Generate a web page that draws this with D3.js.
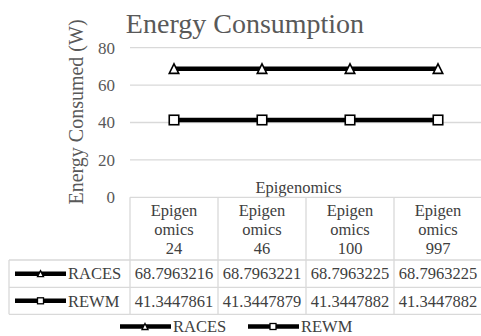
<!DOCTYPE html>
<html><head><meta charset="utf-8"><script src="https://cdn.jsdelivr.net/npm/d3@7"></script></head>
<body style="margin:0">
<script>
// data
const groupName = "Epigenomics";
const categories = ["24", "46", "100", "997"];
const seriesNames = ["RACES", "REWM"];
const racesValues = [68.7963216, 68.7963221, 68.7963225, 68.7963225];
const rewmValues = [41.3447861, 41.3447879, 41.3447882, 41.3447882];
const yTicks = [0, 20, 40, 60, 80];

const series = [
  { name: seriesNames[0], values: racesValues, marker: "triangle" },
  { name: seriesNames[1], values: rewmValues, marker: "square" }
];

const textColor = "#595959",
  tableText = "#404040",
  gridColor = "#d9d9d9";

const svg = d3.select("body").append("svg").attr("width", 481).attr("height", 336);

const xScale = d3.scaleBand()
  .domain(categories)
  .range([130, 482])
  .padding(0);

const yScale = d3.scaleLinear()
  .domain([0, 80])
  .range([197.3, 47.7]);

function addText(g, x, y, txt, size, color, anchor) {
  return g.append("text")
    .attr("x", x)
    .attr("y", y)
    .style("font-family", "Times New Roman")
    .style("font-size", size + "px")
    .attr("text-anchor", anchor || "start")
    .attr("fill", color)
    .text(txt);
}

// title
addText(svg, 245, 33, "Energy Consumption", 28, textColor, "middle");

// y axis title
addText(svg, 0, 0, "Energy Consumed (W)", 20, textColor, "middle")
  .attr("transform", "translate(83,112) rotate(-90)");

// gridlines
svg.append("g")
  .selectAll("line")
  .data(yTicks.filter(d => d > 0))
  .enter()
  .append("line")
  .attr("x1", 130)
  .attr("x2", 482)
  .attr("y1", d => yScale(d))
  .attr("y2", d => yScale(d))
  .attr("stroke", gridColor)
  .attr("stroke-width", 1.3);

// y tick labels
yTicks.forEach(d => {
  addText(svg, 115, yScale(d), d, 17, textColor, "end").attr("dy", "0.35em");
});

// group label
addText(svg, 298.5, 193, groupName, 16.5, tableText, "middle");

// marker drawing
function drawMarker(g, type, x, y, size, sw) {
  if (type === "triangle") {
    g.append("path")
      .attr("d", `M${x},${y - size / 2}L${x + size / 2},${y + size / 2}L${x - size / 2},${y + size / 2}Z`)
      .attr("fill", "#fff")
      .attr("stroke", "#000")
      .attr("stroke-width", sw);
  } else {
    g.append("rect")
      .attr("x", x - size / 2)
      .attr("y", y - size / 2)
      .attr("width", size)
      .attr("height", size)
      .attr("fill", "#fff")
      .attr("stroke", "#000")
      .attr("stroke-width", sw);
  }
}

// lines
const line = d3.line()
  .x((d, i) => xScale(categories[i]) + xScale.bandwidth() / 2)
  .y(d => yScale(d));

series.forEach(s => {
  const g = svg.append("g");
  g.append("path")
    .datum(s.values)
    .attr("d", line)
    .attr("fill", "none")
    .attr("stroke", "#000")
    .attr("stroke-width", 4.5);
  s.values.forEach((v, i) => {
    drawMarker(g, s.marker, xScale(categories[i]) + xScale.bandwidth() / 2, yScale(v), 9.5, 1.6);
  });
});

// data table
const tableTop = yScale(0),
  headerBottom = 260,
  rowBottoms = [287.3, 314.3],
  tableLeft = 9,
  tableRight = 482;

const table = svg.append("g");

table.append("line")
  .attr("x1", 130).attr("x2", tableRight)
  .attr("y1", tableTop).attr("y2", tableTop)
  .attr("stroke", gridColor).attr("stroke-width", 1.3);
[headerBottom].concat(rowBottoms).forEach(y => {
  table.append("line")
    .attr("x1", tableLeft).attr("x2", tableRight)
    .attr("y1", y).attr("y2", y)
    .attr("stroke", gridColor).attr("stroke-width", 1.3);
});
table.append("line")
  .attr("x1", tableLeft).attr("x2", tableLeft)
  .attr("y1", headerBottom).attr("y2", rowBottoms[1])
  .attr("stroke", gridColor).attr("stroke-width", 1.3);
categories.forEach(c => {
  table.append("line")
    .attr("x1", xScale(c)).attr("x2", xScale(c))
    .attr("y1", tableTop).attr("y2", rowBottoms[1])
    .attr("stroke", gridColor).attr("stroke-width", 1.3);
});

// header cells
categories.forEach(c => {
  const cx = xScale(c) + xScale.bandwidth() / 2;
  const lines = [groupName.slice(0, 6), groupName.slice(6), c];
  lines.forEach((t, j) => {
    addText(table, cx, 215.7 + j * 19.1, t, 16.5, tableText, "middle");
  });
});

// value rows
series.forEach((s, r) => {
  const top = r === 0 ? headerBottom : rowBottoms[0];
  const cy = (top + rowBottoms[r]) / 2;
  table.append("line")
    .attr("x1", 15).attr("x2", 66)
    .attr("y1", cy).attr("y2", cy)
    .attr("stroke", "#000").attr("stroke-width", 4.5);
  drawMarker(table, s.marker, 40.5, cy, 6, 1.3);
  addText(table, 68, cy, s.name, 16.5, tableText).attr("dy", "0.35em");
  s.values.forEach((v, i) => {
    addText(table, xScale(categories[i]) + xScale.bandwidth() / 2, cy, v, 16.5, tableText, "middle")
      .attr("dy", "0.35em");
  });
});

// legend
const legendY = 326.5;
const legendX = [120, 248];
series.forEach((s, i) => {
  const x0 = legendX[i];
  svg.append("line")
    .attr("x1", x0).attr("x2", x0 + 51)
    .attr("y1", legendY).attr("y2", legendY)
    .attr("stroke", "#000").attr("stroke-width", 4.5);
  drawMarker(svg, s.marker, x0 + 25, legendY, 6, 1.3);
  addText(svg, x0 + 53, legendY, s.name, 16.5, tableText).attr("dy", "0.35em");
});
</script>
</body></html>
